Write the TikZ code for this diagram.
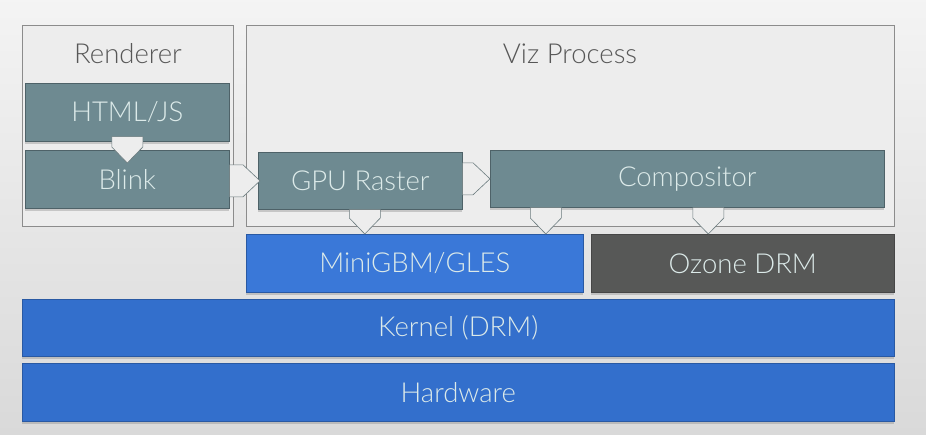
\documentclass[tikz,border=0pt]{standalone}
\usepackage{fontspec}
\setmainfont{Lato Light}
\usetikzlibrary{calc,shadows}
\definecolor{bgc}{HTML}{ECECEC}
\definecolor{contfill}{HTML}{EDEDED}
\definecolor{contline}{HTML}{8C8C8C}
\definecolor{teal}{HTML}{6E8A91}
\definecolor{tealline}{HTML}{4E6268}
\definecolor{blueA}{HTML}{3A78D8}
\definecolor{blueB}{HTML}{336FCC}
\definecolor{ozc}{HTML}{575857}
\definecolor{txtlight}{HTML}{DCEAE9}
\definecolor{txtdark}{HTML}{575757}
\definecolor{arrline}{HTML}{6B7B7E}
\tikzset{
  x=1pt, y=-1pt,
  container/.style={draw=contline, fill=contfill, line width=0.8pt},
  title/.style={text=txtdark, font=\fontsize{27.5}{30}\selectfont, inner sep=0pt},
  box/.style={draw=tealline, fill=teal, line width=0.6pt, text=txtlight,
    font=\fontsize{27.5}{30}\selectfont, inner sep=0pt,
    drop shadow={shadow xshift=0pt, shadow yshift=-3pt, opacity=0.35}},
  bluebox/.style={box, draw=blueB!80!black, fill=blueA},
  kbox/.style={box, draw=blueB!80!black, fill=blueB},
  ozbox/.style={box, draw=ozc!80!black, fill=ozc},
  barrow/.style={draw=arrline, fill=contfill, line width=0.6pt, line join=round},
}
\newcommand\arrdn[2]{%
  \path[barrow] let \p1=(#1), \p2=(#2) in
    (\x2-15.5pt,\y1) -- (\x2-15.5pt,\y2+16pt) -- (\x2,\y2) --
    (\x2+15.5pt,\y2+16pt) -- (\x2+15.5pt,\y1) -- cycle;}
\newcommand\arrrt[2]{%
  \path[barrow] let \p1=(#1), \p2=(#2) in
    (\x1,\y2+16pt) -- (\x2-17pt,\y2+16pt) -- (\x2,\y2) --
    (\x2-17pt,\y2-16pt) -- (\x1,\y2-16pt) -- cycle;}
\begin{document}
\begin{tikzpicture}
\useasboundingbox (0,0) rectangle (926,434);
\shade[top color=bgc!60!white, bottom color=bgc!92!black] (0,0) rectangle (926,434);
% containers
\node[container, minimum width=211pt, minimum height=201pt, anchor=north west, inner sep=0pt] (rend) at (22,25) {};
\node[title] (rendt) at (128,54) {Renderer};
\node[container, minimum width=648pt, minimum height=201pt, anchor=north west, inner sep=0pt] (viz) at (246,25) {};
\node[title] (vizt) at (570,54) {Viz Process};
% boxes
\node[box, minimum width=204pt, minimum height=58pt, anchor=north west] (html) at (25,83) {HTML/JS};
\node[box, minimum width=204pt, minimum height=58pt, anchor=north west] (blink) at (25,150) {Blink};
\node[box, minimum width=204pt, minimum height=57pt, anchor=north west] (gpu) at (258,152) {GPU Raster};
\node[box, minimum width=394pt, minimum height=57pt, anchor=north west] (comp) at (490,150) {Compositor};
\node[bluebox, minimum width=337pt, minimum height=58pt, anchor=north west] (mini) at (246,234) {MiniGBM/GLES};
\node[ozbox, minimum width=303pt, minimum height=58pt, anchor=north west] (ozone) at (591,234) {Ozone DRM};
\node[kbox, minimum width=872pt, minimum height=57pt, anchor=north west] (kernel) at (22,299) {Kernel (DRM)};
\node[kbox, minimum width=872pt, minimum height=58pt, anchor=north west] (hw) at (22,363) {Hardware};
% block arrows
\arrdn{$(html.south)+(0,-5)$}{$(blink.north)+(0,13)$}
\arrrt{blink.east}{$(gpu.west)+(2,0)$}
\arrrt{gpu.east}{comp.west}
\arrdn{gpu.south}{$(mini.north)+(-50,0)$}
\arrdn{comp.south}{$(mini.north)+(131,0)$}
\arrdn{comp.south}{$(ozone.north)+(-34.5,0)$}
\end{tikzpicture}
\end{document}
